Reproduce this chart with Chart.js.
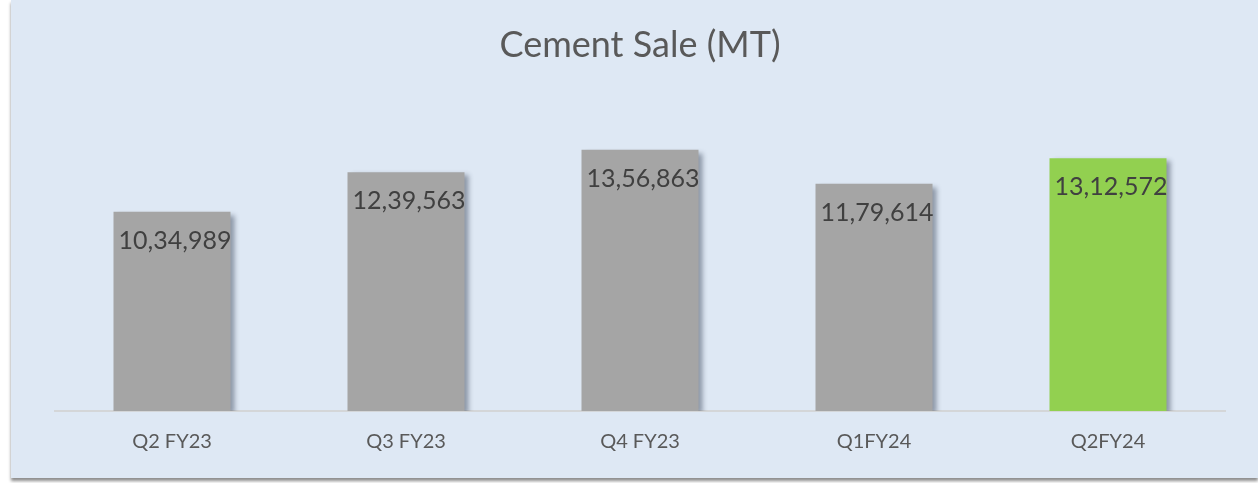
<!DOCTYPE html>
<html>
<head>
<meta charset="utf-8">
<script src="https://cdn.jsdelivr.net/npm/chart.js@4"></script>
<style>
  html, body { margin: 0; padding: 0; background: #fff; }
  body { width: 1258px; height: 483px; overflow: hidden; position: relative; }
  #panel {
    position: absolute; left: 11px; top: 0; width: 1247px; height: 478px;
    background: #dee8f4; box-shadow: 0 3px 3px rgba(0,0,0,0.45);
  }
  #chart { display: block; }
</style>
</head>
<body>
<div id="panel"><canvas id="chart" width="1247" height="478"></canvas></div>
<script>
// 분기별 시멘트 판매량
const quarters = ["Q2 FY23", "Q3 FY23", "Q4 FY23", "Q1FY24", "Q2FY24"];
const cementSale = [1034989, 1239563, 1356863, 1179614, 1312572];
const barColors = ["#a5a5a5", "#a5a5a5", "#a5a5a5", "#a5a5a5", "#92d050"];

// 인도식 자리 구분 (10,34,989)
function indian(n) {
  const s = String(n);
  const last3 = s.slice(-3);
  let rest = s.slice(0, -3);
  if (!rest) return last3;
  rest = rest.replace(/\B(?=(\d{2})+(?!\d))/g, ",");
  return rest + "," + last3;
}

const FONT = "Lato, 'Gill Sans', 'Noto Sans', sans-serif";

// 막대 그림자
const barShadow = {
  id: "barShadow",
  beforeDatasetDraw(chart) {
    const ctx = chart.ctx;
    ctx.save();
    ctx.shadowColor = "rgba(40,50,70,0.45)";
    ctx.shadowBlur = 5;
    ctx.shadowOffsetX = 4;
    ctx.shadowOffsetY = 3;
  },
  afterDatasetDraw(chart) { chart.ctx.restore(); }
};

// 막대 안쪽 상단 값 라벨
const valueLabels = {
  id: "valueLabels",
  afterDatasetsDraw(chart) {
    const ctx = chart.ctx;
    const meta = chart.getDatasetMeta(0);
    ctx.save();
    ctx.font = "25px " + FONT;
    ctx.fillStyle = "#404040";
    ctx.textAlign = "center";
    ctx.textBaseline = "middle";
    meta.data.forEach((bar, i) => {
      ctx.fillText(indian(cementSale[i]), bar.x + 3, bar.y + 29);
    });
    ctx.restore();
  }
};

new Chart(document.getElementById("chart").getContext("2d"), {
  type: "bar",
  data: {
    labels: quarters,
    datasets: [{
      data: cementSale,
      backgroundColor: barColors,
      borderWidth: 0,
      categoryPercentage: 1,
      barPercentage: 0.5
    }]
  },
  options: {
    responsive: false,
    animation: false,
    layout: { padding: { left: 44, right: 33, top: 0, bottom: 13 } },
    plugins: {
      legend: { display: false },
      tooltip: { enabled: false },
      title: {
        display: true,
        text: "Cement Sale (MT)",
        color: "#595959",
        font: { family: FONT, size: 36, weight: "normal" },
        padding: { top: 24, bottom: 28 }
      }
    },
    scales: {
      x: {
        grid: { display: false },
        border: { display: true, color: "#d4d6d8", width: 2 },
        ticks: { color: "#595959", font: { family: FONT, size: 20 }, padding: 11 }
      },
      y: { display: false, min: 0, max: 1640000 }
    }
  },
  plugins: [barShadow, valueLabels]
});
</script>
</body>
</html>
